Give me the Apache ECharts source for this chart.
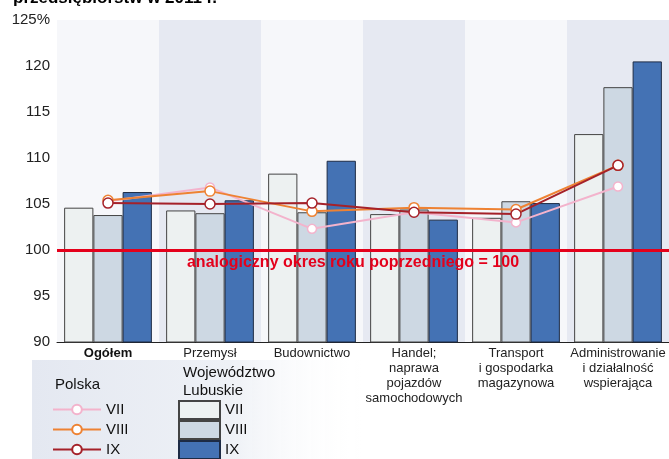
<!DOCTYPE html>
<html>
<head>
<meta charset="utf-8">
<script src="https://cdn.jsdelivr.net/npm/echarts@6/dist/echarts.min.js"></script>
<style>
  html, body { margin: 0; padding: 0; background: #fff; }
  #chart { width: 669px; height: 459px; }
</style>
</head>
<body>
<div id="chart"></div>
<script>
// categories (sections of economy)
const categories = [
    'Ogółem',
    'Przemysł',
    'Budownictwo',
    'Handel;\nnaprawa\npojazdów\nsamochodowych',
    'Transport\ni gospodarka\nmagazynowa',
    'Administrowanie\ni działalność\nwspierająca'
];
const months = ['VII', 'VIII', 'IX'];

// Województwo Lubuskie - bars
const lubuskieVII = [104.6, 104.3, 108.3, 103.9, 103.5, 112.6];
const lubuskieVIII = [103.8, 104.0, 104.1, 104.4, 105.3, 117.7];
const lubuskieIX = [106.3, 105.4, 109.7, 103.3, 105.1, 120.5];

// Polska - lines
const polskaVII = [105.3, 106.8, 102.3, 104.1, 103.0, 106.9];
const polskaVIII = [105.4, 106.4, 104.2, 104.6, 104.4, 109.2];
const polskaIX = [105.1, 105.0, 105.1, 104.1, 103.9, 109.2];

const FONT = '"Liberation Sans", Arial, sans-serif';

const chart = echarts.init(document.getElementById('chart'));

function barSeries(name, data, color, border) {
    return {
        name: 'Lubuskie ' + name,
        type: 'bar',
        data: data,
        barGap: '0%',
        barCategoryGap: '14%',
        itemStyle: { color: color, borderColor: border, borderWidth: 1 },
        z: 2
    };
}

function lineSeries(name, data, color, size) {
    return {
        name: 'Polska ' + name,
        type: 'line',
        data: data,
        symbol: 'circle',
        symbolSize: size,
        lineStyle: { color: color, width: 2 },
        itemStyle: { color: '#fff', borderColor: color, borderWidth: 1.5 },
        z: 4
    };
}

const option = {
    animation: false,
    textStyle: { fontFamily: FONT },
    title: [
        {
            text: 'przedsiębiorstw w 2011 r.',
            left: 8,
            top: -15,
            textStyle: { fontSize: 17, fontWeight: 'bold', color: '#000', fontFamily: FONT }
        },
        {
            text: 'Polska',
            left: 50,
            top: 372,
            textStyle: { fontSize: 15, fontWeight: 'normal', color: '#111', fontFamily: FONT }
        },
        {
            text: 'Województwo\nLubuskie',
            left: 178,
            top: 359,
            textStyle: { fontSize: 15, fontWeight: 'normal', color: '#111', lineHeight: 18, fontFamily: FONT }
        }
    ],
    graphic: [
        {
            type: 'rect',
            left: 32,
            top: 360,
            shape: { width: 330, height: 99 },
            style: {
                fill: new echarts.graphic.LinearGradient(0, 0, 1, 0, [
                    { offset: 0, color: '#e4e8f1' },
                    { offset: 0.6, color: '#eef1f6' },
                    { offset: 1, color: 'rgba(255,255,255,0)' }
                ])
            },
            z: -10
        }
    ],
    legend: [
        {
            data: months.map((n) => 'Polska ' + n),
            orient: 'vertical',
            left: 52,
            top: 401,
            padding: 0,
            itemWidth: 48,
            itemHeight: 12,
            itemGap: 3,
            selectedMode: false,
            formatter: (n) => n.replace('Polska ', ''),
            textStyle: { fontSize: 15, color: '#111', lineHeight: 17, fontFamily: FONT }
        },
        {
            data: months.map((n) => 'Lubuskie ' + n),
            orient: 'vertical',
            left: 178,
            top: 400,
            height: 80,
            padding: 0,
            icon: 'rect',
            itemWidth: 41,
            itemHeight: 18,
            itemGap: 0,
            selectedMode: false,
            formatter: (n) => n.replace('Lubuskie ', ''),
            textStyle: { fontSize: 15, color: '#111', lineHeight: 16, fontFamily: FONT }
        }
    ],
    grid: { left: 57, right: 0, top: 20, bottom: 117 },
    xAxis: {
        type: 'category',
        data: categories,
        axisLine: { lineStyle: { color: '#222', width: 1 } },
        axisTick: { show: false },
        axisLabel: {
            interval: 0,
            fontSize: 13,
            color: '#222',
            lineHeight: 15,
            margin: 4,
            fontFamily: FONT,
            formatter: (v, i) => (i === 0 ? '{b|' + v + '}' : v),
            rich: { b: { fontWeight: 'bold', fontSize: 13, color: '#111', fontFamily: FONT } }
        },
        splitArea: {
            show: true,
            areaStyle: { color: ['#f6f7fa', '#e6e9f2'] }
        }
    },
    yAxis: {
        type: 'value',
        min: 90,
        max: 125,
        interval: 5,
        axisLine: { show: false },
        axisTick: { show: false },
        axisLabel: {
            fontSize: 15,
            color: '#222',
            margin: 7,
            fontFamily: FONT,
            formatter: (v) => (v === 125 ? '125%' : String(v))
        },
        splitLine: { lineStyle: { color: '#333', width: 1 } }
    },
    series: [
        barSeries(months[0], lubuskieVII, '#edf1f1', '#444'),
        barSeries(months[1], lubuskieVIII, '#cdd8e3', '#444'),
        barSeries(months[2], lubuskieIX, '#4472b4', '#1d2b45'),
        lineSeries(months[0], polskaVII, '#f3b3cc', 9),
        lineSeries(months[1], polskaVIII, '#ee8233', 10),
        Object.assign(lineSeries(months[2], polskaIX, '#a52129', 10), {
            markLine: {
                silent: true,
                symbol: 'none',
                lineStyle: { color: '#e4001b', width: 3, type: 'solid', opacity: 1 },
                label: {
                    show: true,
                    position: 'insideMiddleBottom',
                    formatter: 'analogiczny okres roku poprzedniego = 100',
                    color: '#e4001b',
                    fontWeight: 'bold',
                    fontSize: 16,
                    fontFamily: FONT,
                    padding: [0, 20, 0, 0],
                    distance: 5
                },
                data: [{ yAxis: 100 }]
            }
        })
    ]
};

chart.setOption(option);
</script>
</body>
</html>
